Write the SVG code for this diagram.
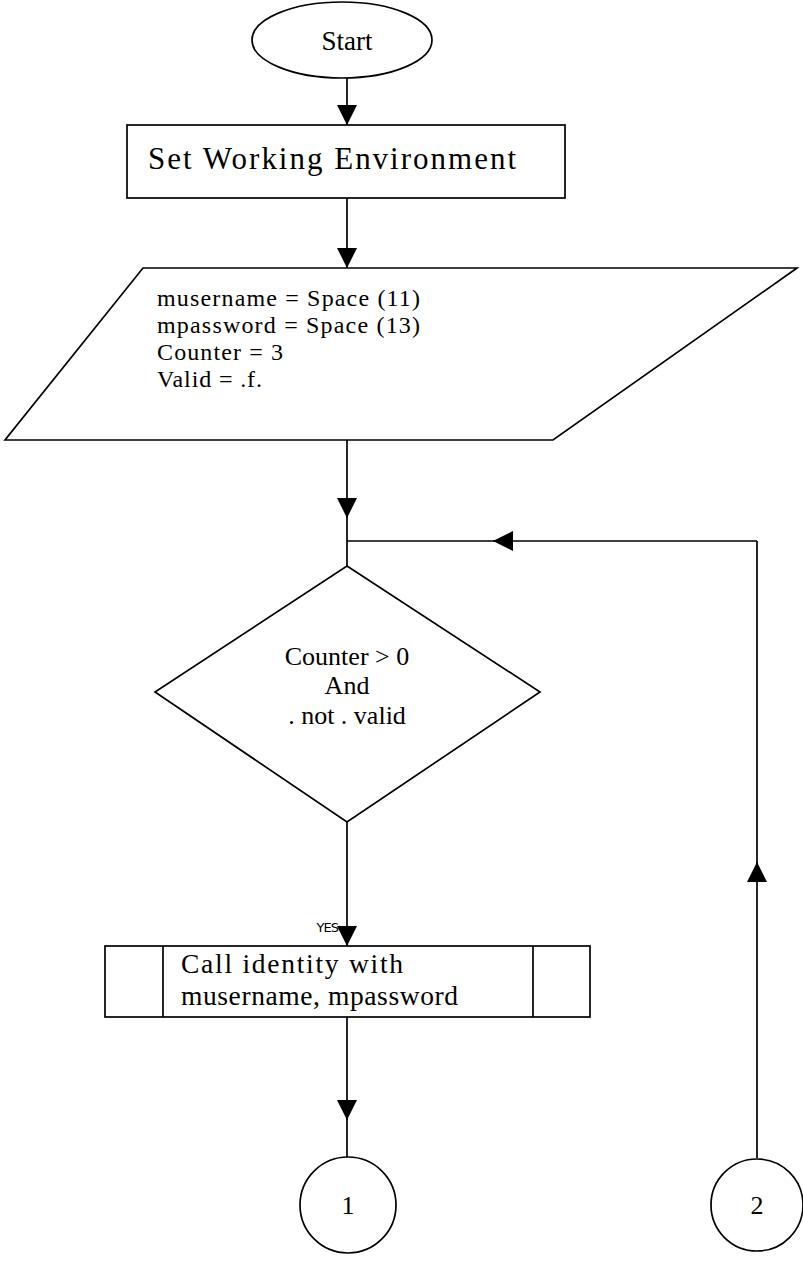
<svg xmlns="http://www.w3.org/2000/svg" width="803" height="1264" viewBox="0 0 803 1264">
<style>
.s{fill:none;stroke:#000;stroke-width:1.7}
.w{fill:#fff;stroke:#000;stroke-width:1.7}
.t{font-family:"Liberation Serif","Times New Roman",serif;font-size:26px;fill:#000}
.p{font-size:24px}
.b{font-size:27.5px}
.c{text-anchor:middle}
</style>
<defs>
<marker id="ah" viewBox="0 0 10 10" refX="10" refY="5" markerWidth="21" markerHeight="20" markerUnits="userSpaceOnUse" orient="auto">
<path d="M0,0 L10,5 L0,10 Z" fill="#000"/>
</marker>
</defs>
<g id="connectors">
<line class="s" x1="347" y1="78" x2="347" y2="125" marker-end="url(#ah)"/>
<line class="s" x1="347" y1="198" x2="347" y2="268" marker-end="url(#ah)"/>
<line class="s" x1="347" y1="440" x2="347" y2="518" marker-end="url(#ah)"/>
<line class="s" x1="347" y1="516" x2="347" y2="566"/>
<line class="s" x1="757" y1="541" x2="493" y2="541" marker-end="url(#ah)"/>
<line class="s" x1="495" y1="541" x2="347" y2="541"/>
<line class="s" x1="347" y1="822" x2="347" y2="946" marker-end="url(#ah)"/>
<line class="s" x1="347" y1="1017" x2="347" y2="1120" marker-end="url(#ah)"/>
<line class="s" x1="347" y1="1118" x2="347" y2="1158"/>
<line class="s" x1="757" y1="1158" x2="757" y2="862" marker-end="url(#ah)"/>
<line class="s" x1="757" y1="864" x2="757" y2="541"/>
<text x="338" y="932" text-anchor="end" font-family="'DejaVu Sans',sans-serif" font-size="13" letter-spacing="-1" fill="#000">YES</text>
</g>
<g id="start">
<ellipse class="w" cx="342" cy="40" rx="90" ry="38"/>
<text class="t c" x="347" y="50" style="font-size:27px">Start</text>
</g>
<g id="setenv">
<rect class="w" x="127" y="125" width="438" height="73"/>
<text class="t" x="148" y="169" style="font-size:31px" textLength="368" lengthAdjust="spacing">Set Working Environment</text>
</g>
<g id="init">
<polygon class="w" points="143,268 797,268 553,440 5,440"/>
<text class="t p" x="157" y="306" textLength="263" lengthAdjust="spacing">musername = Space (11)</text>
<text class="t p" x="157" y="333" textLength="263" lengthAdjust="spacing">mpassword = Space (13)</text>
<text class="t p" x="157" y="360" textLength="126" lengthAdjust="spacing">Counter = 3</text>
<text class="t p" x="157" y="387" textLength="105" lengthAdjust="spacing">Valid = .f.</text>
</g>
<g id="decision">
<polygon class="w" points="347,566 540,692 347,822 155,692"/>
<text class="t c" x="347" y="665">Counter &gt; 0</text>
<text class="t c" x="347" y="694">And</text>
<text class="t c" x="347" y="724">. not . valid</text>
</g>
<g id="callidentity">
<rect class="w" x="105" y="946" width="485" height="71"/>
<line class="s" x1="163" y1="946" x2="163" y2="1017"/>
<line class="s" x1="533" y1="946" x2="533" y2="1017"/>
<text class="t b" x="181" y="973" textLength="222" lengthAdjust="spacing">Call identity with</text>
<text class="t b" x="181" y="1005" textLength="277" lengthAdjust="spacing">musername, mpassword</text>
</g>
<g id="conn1">
<circle class="w" cx="348" cy="1205" r="48"/>
<text class="t c" x="348" y="1214">1</text>
</g>
<g id="conn2">
<circle class="w" cx="757" cy="1205" r="46"/>
<text class="t c" x="757" y="1214">2</text>
</g>
</svg>
